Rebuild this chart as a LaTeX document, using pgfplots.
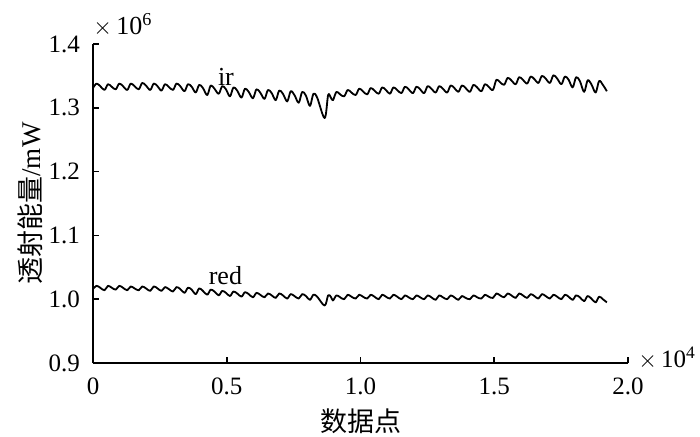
\documentclass[border=0pt]{standalone}
\usepackage{pgfplots}
\pgfplotsset{compat=1.18}
\usepackage{pgfplotstable}
\usepackage{fontspec}
\setmainfont{Liberation Serif}
\newfontfamily\cjk{Noto Sans CJK SC}
\pgfplotstableread{
x ir red
0.000 1.331 1.016
0.013 1.338 1.021
0.027 1.334 1.018
0.043 1.328 1.014
0.056 1.337 1.021
0.070 1.333 1.018
0.085 1.329 1.015
0.098 1.338 1.021
0.112 1.334 1.018
0.128 1.328 1.014
0.141 1.338 1.020
0.155 1.334 1.017
0.171 1.329 1.014
0.184 1.339 1.020
0.198 1.335 1.017
0.214 1.328 1.013
0.227 1.338 1.020
0.241 1.334 1.017
0.256 1.327 1.013
0.269 1.337 1.019
0.283 1.333 1.016
0.299 1.328 1.012
0.312 1.338 1.019
0.326 1.334 1.016
0.342 1.326 1.010
0.355 1.337 1.018
0.369 1.333 1.015
0.384 1.324 1.008
0.397 1.336 1.017
0.411 1.331 1.013
0.427 1.320 1.007
0.440 1.335 1.015
0.454 1.330 1.012
0.470 1.322 1.006
0.483 1.334 1.013
0.497 1.329 1.010
0.512 1.318 1.005
0.525 1.332 1.012
0.539 1.327 1.009
0.555 1.316 1.004
0.568 1.330 1.011
0.582 1.325 1.008
0.598 1.315 1.003
0.611 1.329 1.010
0.625 1.324 1.007
0.641 1.314 1.003
0.654 1.328 1.009
0.668 1.323 1.006
0.683 1.312 1.002
0.696 1.327 1.009
0.710 1.322 1.006
0.726 1.310 1.001
0.739 1.326 1.008
0.753 1.320 1.005
0.769 1.308 1.001
0.782 1.325 1.008
0.796 1.319 1.005
0.811 1.303 0.999
0.824 1.322 1.007
0.838 1.316 1.004
0.866 1.284 0.990
0.879 1.320 1.006
0.889 1.316 1.004
0.897 1.312 0.998
0.910 1.325 1.006
0.924 1.321 1.003
0.939 1.318 1.000
0.952 1.328 1.007
0.966 1.324 1.004
0.982 1.320 1.001
0.995 1.330 1.007
1.009 1.326 1.004
1.025 1.321 1.001
1.038 1.331 1.007
1.052 1.327 1.004
1.068 1.322 1.000
1.081 1.332 1.007
1.095 1.328 1.004
1.110 1.322 1.001
1.123 1.332 1.007
1.137 1.328 1.004
1.153 1.323 1.000
1.166 1.333 1.006
1.180 1.329 1.003
1.196 1.323 1.000
1.209 1.333 1.006
1.223 1.329 1.003
1.238 1.323 1.000
1.251 1.334 1.006
1.265 1.330 1.003
1.281 1.324 0.999
1.294 1.334 1.006
1.308 1.330 1.003
1.324 1.324 1.000
1.337 1.335 1.006
1.351 1.331 1.003
1.366 1.325 0.999
1.379 1.335 1.005
1.393 1.331 1.002
1.409 1.325 1.000
1.422 1.336 1.006
1.436 1.332 1.003
1.452 1.326 1.001
1.465 1.337 1.007
1.479 1.333 1.004
1.495 1.328 1.002
1.508 1.344 1.009
1.522 1.340 1.006
1.537 1.336 1.003
1.550 1.347 1.009
1.564 1.343 1.006
1.580 1.337 1.002
1.593 1.348 1.009
1.607 1.344 1.006
1.623 1.338 1.002
1.636 1.349 1.008
1.650 1.345 1.005
1.665 1.339 1.001
1.678 1.350 1.008
1.692 1.346 1.005
1.708 1.339 1.001
1.721 1.351 1.007
1.735 1.346 1.004
1.751 1.337 1.000
1.764 1.349 1.007
1.778 1.344 1.004
1.793 1.332 0.999
1.806 1.348 1.006
1.820 1.342 1.003
1.836 1.325 0.997
1.849 1.343 1.005
1.863 1.337 1.001
1.879 1.324 0.995
1.892 1.342 1.004
1.906 1.336 1.000
1.921 1.326 0.995
}\datatable
\begin{document}
\begin{tikzpicture}
\useasboundingbox (-46.5pt,-36.5pt) rectangle (303.5pt,181.5pt);
\begin{axis}[
  at={(0,0)}, anchor=south west,
  scale only axis, width=267.5pt, height=159.5pt,
  xmin=0, xmax=2, ymin=0.9, ymax=1.4,
  axis x line*=bottom, axis y line*=left,
  axis line style={-, line width=0.8pt},
  tick align=inside, major tick length=3pt,
  tick style={line width=0.8pt, black},
  xtick={0,0.5,1,1.5,2}, xticklabels={0,0.5,1.0,1.5,2.0},
  ytick={0.9,1.0,1.1,1.2,1.3,1.4}, yticklabels={0.9,1.0,1.1,1.2,1.3,1.4},
  ticklabel style={font=\fontsize{12.5}{14}\selectfont},
  xticklabel style={yshift=-4pt},
  yticklabel style={xshift=-3pt},
  xlabel={\cjk 数据点},
  ylabel={{\cjk 透射能量}/mW},
  label style={font=\fontsize{13.5}{15}\selectfont},
  xlabel style={at={(axis description cs:0.5,-0.182)}, anchor=center},
  ylabel style={at={(axis description cs:-0.118,0.5)}, anchor=center},
  clip=false,
]
\addplot[black, line width=0.9pt, line join=round, smooth, tension=0.55] table[x=x, y=ir] {\datatable};
\addplot[black, line width=0.9pt, line join=round, smooth, tension=0.55] table[x=x, y=red] {\datatable};
\node[anchor=base, font=\fontsize{13}{14}\selectfont, inner sep=0pt] at (axis cs:0.497,1.335) {ir};
\node[anchor=base, font=\fontsize{13}{14}\selectfont, inner sep=0pt] at (axis cs:0.495,1.0225) {red};
\node[anchor=base west, font=\fontsize{13}{14}\selectfont, inner sep=0pt] at (axis cs:0,1.4) [yshift=5pt] {$\times$\,10\textsuperscript{6}};
\node[anchor=base west, font=\fontsize{12.5}{14}\selectfont, inner sep=0pt] at (axis cs:2,0.9) [xshift=5pt, yshift=-2pt] {$\times$\,10\textsuperscript{4}};
\end{axis}
\end{tikzpicture}
\end{document}
